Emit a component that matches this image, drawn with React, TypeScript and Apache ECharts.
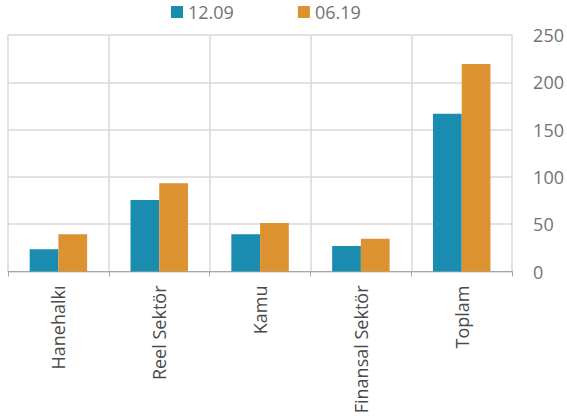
import React, { useEffect, useRef } from "react";
import * as echarts from "echarts";

const categories = ["Hanehalkı", "Reel Sektör", "Kamu", "Finansal Sektör", "Toplam"];
const series1209 = [23.5, 75.6, 39.3, 27, 166.8];
const series0619 = [39.3, 93.2, 51.3, 34.7, 219.3];
const seriesNames = ["12.09", "06.19"];
const colors = ["#1a8caf", "#dc9230"];

export default function App() {
  const ref = useRef<HTMLDivElement>(null);
  useEffect(() => {
    if (!ref.current) return;
    const chart = echarts.init(ref.current, undefined, { renderer: "svg" });
    chart.setOption({
      animation: false,
      textStyle: { fontFamily: "Open Sans" },
      legend: {
        left: 166,
        top: 0,
        padding: [3, 5, 5, 5],
        itemWidth: 12,
        itemHeight: 12,
        itemGap: 64,
        icon: "rect",
        textStyle: { fontSize: 18, lineHeight: 18, color: "#737373", fontFamily: "Open Sans" },
        data: seriesNames,
      },
      grid: { left: 8, right: 53, top: 35, bottom: 147.5, containLabel: false },
      xAxis: {
        type: "category",
        data: categories,
        axisLine: { show: true, lineStyle: { color: "#a6a6a6", width: 1 } },
        axisTick: { show: true, length: 5, lineStyle: { color: "#a6a6a6" } },
        splitLine: { show: true, lineStyle: { color: "#d9d9d9", width: 1.5 } },
        axisLabel: {
          rotate: 90,
          margin: 14,
          fontSize: 18,
          color: "#4a4a4a",
          fontFamily: "Open Sans",
        },
      },
      yAxis: {
        type: "value",
        position: "right",
        min: 0,
        max: 250,
        interval: 50,
        axisLine: { show: false },
        axisTick: { show: false },
        splitLine: { show: true, lineStyle: { color: "#d9d9d9", width: 1.5 } },
        axisLabel: { margin: 21, fontSize: 18, color: "#737373", fontFamily: "Open Sans" },
      },
      series: [
        {
          name: seriesNames[0],
          type: "bar",
          data: series1209,
          itemStyle: { color: colors[0] },
          barGap: "0%",
          barCategoryGap: "43%",
        },
        {
          name: seriesNames[1],
          type: "bar",
          data: series0619,
          itemStyle: { color: colors[1] },
          barGap: "0%",
          barCategoryGap: "43%",
        },
      ],
    });
    return () => chart.dispose();
  }, []);
  return <div ref={ref} style={{ width: 567, height: 419, position: "absolute", left: 0, top: 0 }} />;
}
